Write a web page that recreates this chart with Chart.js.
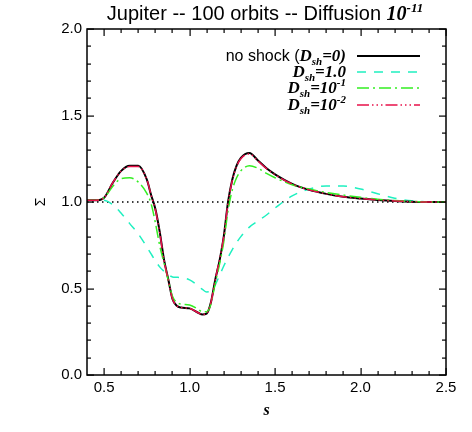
<!DOCTYPE html>
<html lang="en">
<head>
<meta charset="UTF-8">
<title>Jupiter -- 100 orbits</title>
<script src="https://cdn.jsdelivr.net/npm/chart.js"></script>
<style>
    body { margin: 0; background: #fff; }
    canvas { display: block; }
</style>
</head>
<body>
<canvas id="sigmaChart" width="472" height="432"></canvas>

<script>
    // radial coordinate s
    const sVals = [0.40, 0.45, 0.50, 0.55, 0.60, 0.65, 0.70, 0.75, 0.775, 0.80, 0.825, 0.85, 0.875, 0.90, 0.925, 0.95,
      1.00, 1.05, 1.075, 1.10, 1.125, 1.15, 1.175, 1.20, 1.225, 1.25, 1.275, 1.30, 1.35, 1.40, 1.45, 1.50,
      1.60, 1.70, 1.80, 1.90, 2.00, 2.10, 2.20, 2.30, 2.40, 2.50];

    const noShock = [1.01, 1.01, 1.025, 1.11, 1.18, 1.21, 1.21, 1.13, 1.04, 0.96, 0.83, 0.67, 0.555, 0.44, 0.40, 0.39,
      0.385, 0.36, 0.35, 0.355, 0.42, 0.55, 0.66, 0.80, 1.00, 1.13, 1.21, 1.255, 1.283, 1.24, 1.195, 1.16,
      1.105, 1.07, 1.047, 1.03, 1.02, 1.012, 1.006, 1.002, 1.0, 1.0];

    const dsh1 = [1.01, 1.012, 1.01, 0.985, 0.935, 0.875, 0.815, 0.74, 0.70, 0.66, 0.625, 0.60, 0.58, 0.567, 0.565, 0.563,
      0.55, 0.515, 0.495, 0.48, 0.485, 0.52, 0.575, 0.63, 0.68, 0.725, 0.765, 0.80, 0.855, 0.89, 0.925, 0.965,
      1.035, 1.075, 1.093, 1.092, 1.075, 1.048, 1.022, 1.007, 1.001, 1.0];

    const dsh01 = [1.01, 1.01, 1.025, 1.09, 1.135, 1.14, 1.115, 1.05, 0.99, 0.88, 0.75, 0.65, 0.55, 0.455, 0.42, 0.41,
      0.405, 0.38, 0.365, 0.365, 0.41, 0.53, 0.64, 0.77, 0.95, 1.07, 1.14, 1.18, 1.21, 1.195, 1.165, 1.14,
      1.10, 1.075, 1.055, 1.04, 1.027, 1.016, 1.008, 1.003, 1.0, 1.0];

    const dsh001 = [1.01, 1.01, 1.025, 1.11, 1.18, 1.205, 1.205, 1.13, 1.04, 0.955, 0.825, 0.665, 0.55, 0.44, 0.40, 0.39,
      0.385, 0.36, 0.35, 0.355, 0.42, 0.55, 0.665, 0.80, 0.995, 1.125, 1.205, 1.25, 1.278, 1.237, 1.193, 1.158,
      1.104, 1.07, 1.047, 1.03, 1.02, 1.012, 1.006, 1.002, 1.0, 1.0];

    const refS = [0.4, 2.5];
    const refVals = [1.0, 1.0];

    const xTicks = [0.5, 1.0, 1.5, 2.0, 2.5];
    const yTicks = [0.0, 0.5, 1.0, 1.5, 2.0];

    const sans = '"Liberation Sans", Arial, sans-serif';
    const serif = '"Liberation Serif", "Times New Roman", serif';

    const toPoints = (xs, ys) => xs.map((x, i) => ({ x: x, y: ys[i] }));

    // draws mixed-font text, aligned on x
    function drawParts(ctx, parts, x, y, align) {
      let total = 0;
      parts.forEach(p => { ctx.font = p.font; total += ctx.measureText(p.text).width; });
      let cx = align === 'right' ? x - total : (align === 'center' ? x - total / 2 : x);
      ctx.textAlign = 'left';
      ctx.textBaseline = 'alphabetic';
      parts.forEach(p => {
        ctx.font = p.font;
        ctx.fillText(p.text, cx, y + (p.dy || 0));
        cx += ctx.measureText(p.text).width;
      });
    }

    function segment(ctx, x0, y0, x1, y1) {
      ctx.beginPath();
      ctx.moveTo(x0, y0);
      ctx.lineTo(x1, y1);
      ctx.stroke();
    }

    const frameAndText = {
      id: 'frameAndText',
      afterDraw(chart) {
        const ctx = chart.ctx;
        const a = chart.chartArea;
        const ys = chart.scales.y;
        const w = a.right - a.left;
        const h = a.bottom - a.top;
        ctx.save();
        ctx.setLineDash([]);
        ctx.strokeStyle = '#000000';
        ctx.fillStyle = '#000000';

        // box
        ctx.lineWidth = 1.5;
        ctx.strokeRect(a.left, a.top, w, h);

        // inward ticks on all sides, every 0.1
        for (let i = 5; i <= 25; i++) {
          const px = Math.round(a.left + (i / 10 - 0.4) / 2.1 * w);
          const len = i % 5 === 0 ? 7 : 4;
          ctx.fillRect(px - 0.5, a.bottom - len, 1.2, len);
          ctx.fillRect(px - 0.5, a.top, 1.2, len);
        }
        for (let i = 0; i <= 20; i++) {
          const py = Math.round(a.bottom - (i / 10) / 2.0 * h);
          const len = i % 5 === 0 ? 7 : 4;
          ctx.fillRect(a.left, py - 0.5, len, 1.2);
          ctx.fillRect(a.right - len, py - 0.5, len, 1.2);
        }

        // title
        drawParts(ctx, [
          { text: 'Jupiter -- 100 orbits -- Diffusion ', font: '20px ' + sans },
          { text: '10', font: 'italic bold 20px ' + serif },
          { text: '-11', font: 'italic bold 13px ' + serif, dy: -8 }
        ], 265, 20, 'center');

        // axis titles
        ctx.font = 'italic bold 16px ' + serif;
        ctx.textAlign = 'center';
        ctx.textBaseline = 'alphabetic';
        ctx.fillText('s', (a.left + a.right) / 2, 415);
        ctx.save();
        ctx.translate(41, ys.getPixelForValue(1.0));
        ctx.rotate(-Math.PI / 2);
        ctx.font = '14px ' + sans;
        ctx.textAlign = 'center';
        ctx.textBaseline = 'middle';
        ctx.fillText('Σ', 0, 0);
        ctx.restore();

        // legend
        const bi = sz => 'italic bold ' + sz + 'px ' + serif;
        const rows = [
          [{ text: 'no shock (', font: '16px ' + sans }, { text: 'D', font: bi(17) }, { text: 'sh', font: bi(11), dy: 4 }, { text: '=0)', font: bi(17) }],
          [{ text: 'D', font: bi(17) }, { text: 'sh', font: bi(11), dy: 4 }, { text: '=1.0', font: bi(17) }],
          [{ text: 'D', font: bi(17) }, { text: 'sh', font: bi(11), dy: 4 }, { text: '=10', font: bi(17) }, { text: '-1', font: bi(11), dy: -7 }],
          [{ text: 'D', font: bi(17) }, { text: 'sh', font: bi(11), dy: 4 }, { text: '=10', font: bi(17) }, { text: '-2', font: bi(11), dy: -7 }]
        ];
        const rowY = [56, 72, 88, 105];
        const ds = chart.data.datasets;
        rows.forEach((parts, i) => {
          ctx.fillStyle = '#000000';
          drawParts(ctx, parts, 346, rowY[i] + 5, 'right');
          ctx.strokeStyle = ds[i].borderColor;
          ctx.lineWidth = ds[i].borderWidth;
          ctx.setLineDash(ds[i].borderDash || []);
          segment(ctx, 357, rowY[i], 420, rowY[i]);
          ctx.setLineDash([]);
        });
        ctx.restore();
      }
    };

    new Chart(document.getElementById('sigmaChart').getContext('2d'), {
      type: 'line',
      data: {
        datasets: [
          { label: 'no shock (Dsh=0)', data: toPoints(sVals, noShock), borderColor: '#000000', borderWidth: 2, order: 3 },
          { label: 'Dsh=1.0', data: toPoints(sVals, dsh1), borderColor: '#1ff0c0', borderWidth: 1.5, borderDash: [9, 8], order: 4 },
          { label: 'Dsh=10^-1', data: toPoints(sVals, dsh01), borderColor: '#33ee22', borderWidth: 1.5, borderDash: [12, 4, 2, 4], order: 2 },
          { label: 'Dsh=10^-2', data: toPoints(sVals, dsh001), borderColor: '#e8104a', borderWidth: 1.5, borderDash: [12, 3, 1.5, 3, 1.5, 3, 1.5, 3], order: 1 },
          { label: 'ref', data: toPoints(refS, refVals), borderColor: '#000000', borderWidth: 1.5, borderDash: [1.5, 3.5], order: 5, tension: 0 }
        ]
      },
      options: {
        responsive: false,
        animation: false,
        elements: { point: { radius: 0 }, line: { cubicInterpolationMode: 'monotone' } },
        layout: { padding: { top: 29, right: 26, left: 0, bottom: 0 } },
        plugins: { legend: { display: false }, title: { display: false }, tooltip: { enabled: false } },
        scales: {
          x: {
            type: 'linear', min: 0.4, max: 2.5,
            grid: { display: false, drawTicks: false }, border: { display: false },
            afterBuildTicks: s => { s.ticks = xTicks.map(v => ({ value: v })); },
            afterFit: s => { s.height = 57; },
            ticks: { color: '#000', padding: 4, font: { family: sans, size: 15 }, maxRotation: 0, callback: v => v.toFixed(1) }
          },
          y: {
            min: 0, max: 2.0,
            grid: { display: false, drawTicks: false }, border: { display: false },
            afterBuildTicks: s => { s.ticks = yTicks.map(v => ({ value: v })); },
            afterFit: s => { s.width = 87; },
            ticks: { color: '#000', padding: 5, font: { family: sans, size: 15 }, callback: v => v.toFixed(1) }
          }
        }
      },
      plugins: [frameAndText]
    });
</script>
</body>
</html>
